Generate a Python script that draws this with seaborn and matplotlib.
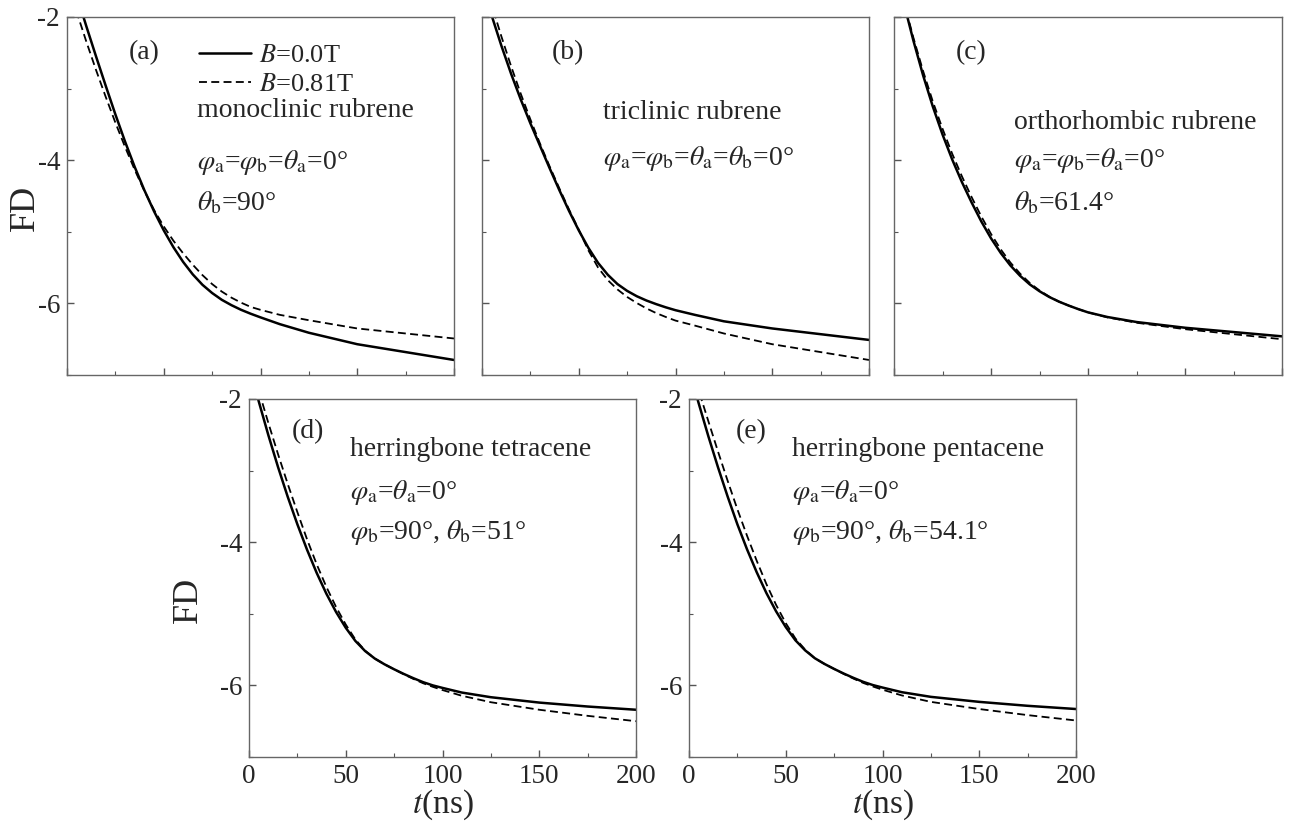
import numpy as np
import pandas as pd
import seaborn as sns
import matplotlib.pyplot as plt
from matplotlib.ticker import MultipleLocator, NullFormatter

# time grid (ns) shared by all panels
t = [0, 5, 10, 15, 20, 25, 30, 35, 40, 45, 50, 55, 60, 65, 70, 75, 80, 85, 90, 95, 100,
     110, 125, 150, 175, 200]

# FD values: B=0.0T (solid) and B=0.81T (dashed)
a_b00 = [-1.245, -1.695, -2.13, -2.55, -2.96, -3.36, -3.74, -4.095, -4.42, -4.715, -4.98, -5.215, -5.42,
         -5.595, -5.74, -5.855, -5.95, -6.025, -6.09, -6.145, -6.195, -6.29, -6.41, -6.57, -6.68, -6.79]
a_b81 = [-1.49, -1.93, -2.345, -2.74, -3.115, -3.475, -3.815, -4.135, -4.43, -4.695, -4.925, -5.125, -5.30,
         -5.46, -5.605, -5.73, -5.835, -5.92, -5.99, -6.05, -6.09, -6.16, -6.235, -6.35, -6.42, -6.49]
b_b00 = [-1.53, -1.98, -2.40, -2.79, -3.15, -3.485, -3.80, -4.115, -4.42, -4.71, -4.98, -5.225, -5.435,
         -5.60, -5.73, -5.825, -5.90, -5.96, -6.01, -6.055, -6.095, -6.16, -6.25, -6.35, -6.43, -6.51]
b_b81 = [-1.37, -1.83, -2.27, -2.685, -3.07, -3.43, -3.77, -4.09, -4.395, -4.69, -4.97, -5.26, -5.50,
         -5.675, -5.805, -5.91, -5.995, -6.07, -6.135, -6.19, -6.24, -6.31, -6.42, -6.57, -6.68, -6.79]
c_b00 = [-1.20, -1.80, -2.33, -2.815, -3.25, -3.64, -3.99, -4.305, -4.59, -4.855, -5.09, -5.295, -5.47,
         -5.615, -5.735, -5.83, -5.91, -5.975, -6.03, -6.08, -6.125, -6.19, -6.26, -6.34, -6.40, -6.46]
c_b81 = [-1.20, -1.78, -2.29, -2.755, -3.18, -3.56, -3.91, -4.225, -4.515, -4.785, -5.03, -5.245, -5.43,
         -5.585, -5.715, -5.82, -5.905, -5.975, -6.03, -6.08, -6.125, -6.195, -6.27, -6.36, -6.43, -6.50]
d_b00 = [-1.53, -2.03, -2.505, -2.95, -3.365, -3.75, -4.105, -4.43, -4.72, -4.975, -5.195, -5.38, -5.52,
         -5.625, -5.705, -5.775, -5.84, -5.90, -5.955, -6.00, -6.035, -6.10, -6.165, -6.24, -6.295, -6.34]
d_b81 = [-1.40, -1.88, -2.335, -2.77, -3.185, -3.58, -3.96, -4.31, -4.625, -4.905, -5.15, -5.36, -5.515,
         -5.625, -5.705, -5.775, -5.845, -5.91, -5.97, -6.02, -6.065, -6.145, -6.235, -6.34, -6.425, -6.50]
e_b00 = [-1.58, -2.06, -2.52, -2.955, -3.365, -3.75, -4.10, -4.42, -4.71, -4.965, -5.185, -5.37, -5.51,
         -5.62, -5.70, -5.77, -5.835, -5.895, -5.95, -5.995, -6.03, -6.095, -6.16, -6.23, -6.285, -6.33]
e_b81 = [-1.43, -1.88, -2.31, -2.735, -3.145, -3.54, -3.91, -4.26, -4.585, -4.875, -5.13, -5.345, -5.50,
         -5.62, -5.70, -5.77, -5.84, -5.905, -5.965, -6.015, -6.06, -6.14, -6.23, -6.33, -6.415, -6.49]

tags = ["(a)", "(b)", "(c)", "(d)", "(e)"]
notes = [
    ["monoclinic rubrene", r"$\varphi_{\rm a}$=$\varphi_{\rm b}$=$\theta_{\rm a}$=0°", r"$\theta_{\rm b}$=90°"],
    ["triclinic rubrene", r"$\varphi_{\rm a}$=$\varphi_{\rm b}$=$\theta_{\rm a}$=$\theta_{\rm b}$=0°"],
    ["orthorhombic rubrene", r"$\varphi_{\rm a}$=$\varphi_{\rm b}$=$\theta_{\rm a}$=0°", r"$\theta_{\rm b}$=61.4°"],
    ["herringbone tetracene", r"$\varphi_{\rm a}$=$\theta_{\rm a}$=0°", r"$\varphi_{\rm b}$=90°, $\theta_{\rm b}$=51°"],
    ["herringbone pentacene", r"$\varphi_{\rm a}$=$\theta_{\rm a}$=0°", r"$\varphi_{\rm b}$=90°, $\theta_{\rm b}$=54.1°"],
]
series = [(a_b00, a_b81), (b_b00, b_b81), (c_b00, c_b81), (d_b00, d_b81), (e_b00, e_b81)]

sns.set_theme(style="ticks")
plt.rcParams["font.family"] = ["Liberation Serif", "DejaVu Serif"]
plt.rcParams["mathtext.fontset"] = "stix"
plt.rcParams["axes.unicode_minus"] = False

fig = plt.figure(figsize=(12.92, 8.25), dpi=100)
W, H = 1292, 825
boxes = [(67, 17, 387, 358), (482, 17, 387, 358), (894, 17, 388, 358),
         (249, 399, 387, 358), (689, 399, 387, 358)]
axes = [fig.add_axes([x / W, 1 - (y + h) / H, w / W, h / H]) for x, y, w, h in boxes]

# text placement in data units
tag_pos = [(32, -2.5), (36, -2.5), (32, -2.5), (22, -2.46), (24, -2.46)]
note_x = [67, 62.5, 62, 52, 53]
note_y = [[-3.3, -4.03, -4.6], [-3.33, -3.97], [-3.47, -4.0, -4.6],
          [-2.71, -3.31, -3.87], [-2.71, -3.31, -3.87]]

for i, ax in enumerate(axes):
    solid, dashed = series[i]
    df = pd.DataFrame({"t": t + t, "FD": solid + dashed,
                       "B": ["B=0.0T"] * len(t) + ["B=0.81T"] * len(t)})
    sns.lineplot(data=df[df.B == "B=0.0T"], x="t", y="FD", color="black", lw=1.8,
                 ax=ax, label=r"$B$=0.0T")
    sns.lineplot(data=df[df.B == "B=0.81T"], x="t", y="FD", color="black", lw=1.3,
                 ax=ax, label=r"$B$=0.81T")
    ax.lines[1].set_dashes((4.4, 2.4))
    ax.set_xlim(0, 200)
    ax.set_ylim(-7, -2)
    ax.xaxis.set_major_locator(MultipleLocator(50))
    ax.xaxis.set_minor_locator(MultipleLocator(25))
    ax.yaxis.set_major_locator(MultipleLocator(2))
    ax.yaxis.set_minor_locator(MultipleLocator(1))
    ax.tick_params(which="both", direction="in", top=False, right=False,
                   color="#555555", labelsize=19.5)
    ax.tick_params(axis="x", pad=5)
    ax.tick_params(axis="y", pad=5)
    ax.tick_params(which="major", length=5, width=1)
    ax.tick_params(which="minor", length=3, width=0.8)
    for s in ax.spines.values():
        s.set_color("#666666")
        s.set_linewidth(1.0)
    ax.set_xlabel("")
    ax.set_ylabel("")
    if i < 3:
        ax.xaxis.set_major_formatter(NullFormatter())
    else:
        ax.set_xlabel(r"$t$(ns)", fontsize=24, labelpad=-1)
    if i in (1, 2):
        ax.yaxis.set_major_formatter(NullFormatter())
    if i == 0:
        ax.set_ylabel("FD", fontsize=26)
        ax.yaxis.set_label_coords(-0.065, 0.466)
    if i == 3:
        ax.set_ylabel("FD", fontsize=26)
        ax.yaxis.set_label_coords(-0.115, 0.44)
    ax.text(tag_pos[i][0], tag_pos[i][1], tags[i], fontsize=20, va="center")
    for txt, yy in zip(notes[i], note_y[i]):
        ax.text(note_x[i], yy, txt, fontsize=20, va="center")
    if i == 0:
        ax.legend(loc="upper left", bbox_to_anchor=(0.313, 0.955), frameon=False,
                  fontsize=19, handlelength=2.0, handletextpad=0.3, labelspacing=0.2,
                  borderaxespad=0)
    else:
        ax.get_legend().remove()

fig.savefig("out.png", dpi=100)
